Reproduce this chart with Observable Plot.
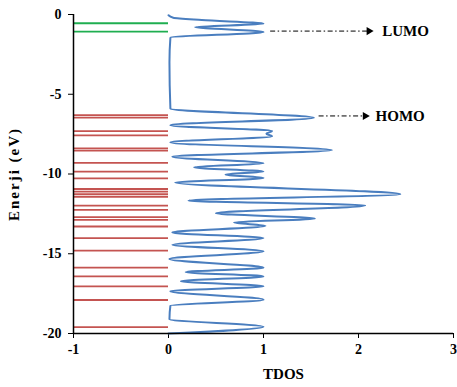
<!DOCTYPE html>
<html>
<head>
<meta charset="utf-8">
<script src="https://cdn.jsdelivr.net/npm/d3@7"></script>
<script src="https://cdn.jsdelivr.net/npm/@observablehq/plot@0.6"></script>
<style>
  body { margin: 0; background: #fff; }
  svg { overflow: visible; }
</style>
</head>
<body>
<div id="chart"></div>
<script>
// Unoccupied (LUMO side) orbital energies, eV
const virtualLevels = [-0.55, -1.07];
// Occupied orbital energies, eV
const occupiedLevels = [-6.31, -6.46, -7.31, -7.58, -8.39, -8.54, -9.30, -9.85, -10.27,
  -10.94, -11.10, -11.27, -11.44, -11.98, -12.25, -12.71, -12.88, -13.29, -14.02,
  -14.80, -15.87, -16.42, -17.04, -17.90, -19.60];

// TDOS curve: energy (eV) and density
const dosEnergy = [-0.05, -0.20, -0.35, -0.58, -0.79, -1.10, -1.45, -3.00, -5.90,
  -6.48, -6.94, -7.31, -7.47, -7.63, -8.02, -8.50, -8.92, -9.33, -9.58, -9.85,
  -10.04, -10.25, -10.54, -11.27, -11.67, -11.98, -12.46, -12.80, -13.04, -13.25,
  -13.67, -14.02, -14.44, -14.85, -15.33, -15.88, -16.15, -16.42, -16.73, -17.04,
  -17.35, -17.88, -18.25, -19.10, -19.58, -20.00];
const dosValue = [0.00, 0.05, 0.35, 1.00, 0.28, 1.00, 0.02, 0.01, 0.02,
  1.53, 0.02, 1.09, 1.03, 1.09, 0.02, 1.72, 0.04, 1.00, 0.27, 1.00,
  0.60, 1.00, 0.07, 2.44, 0.21, 2.07, 0.50, 1.54, 0.69, 1.02,
  0.04, 1.00, 0.04, 1.00, 0.01, 1.00, 0.18, 1.00, 0.13, 1.00,
  0.02, 1.00, 0.02, 0.01, 1.00, 0.00];

// Annotations
const annLabels = ["LUMO", "HOMO"];
const annEnergy = [-1.04, -6.36];
const annArrowStart = [1.07, 1.58];
const annArrowEnd = [2.11, 2.07];
const annTextX = [2.25, 2.18];

// Ticks
const xTicks = [-1, 0, 1, 2, 3];
const yTicks = [0, -5, -10, -15, -20];

const dos = dosEnergy.map((e, i) => ({energy: e, dos: dosValue[i]}));
const ann = annLabels.map((l, i) => ({label: l, y: annEnergy[i], x1: annArrowStart[i], x2: annArrowEnd[i], tx: annTextX[i]}));

const chart = Plot.plot({
  width: 457,
  height: 387,
  marginLeft: 73,
  marginRight: 4,
  marginTop: 14,
  marginBottom: 54,
  style: {fontFamily: "'Liberation Serif', 'Times New Roman', serif", fontSize: "14px", fontWeight: "bold", color: "#000", background: "#fff"},
  x: {domain: [-1, 3], ticks: xTicks, tickSize: 5, tickPadding: 6, label: null, tickFormat: d => String(d)},
  y: {domain: [-20, 0], ticks: yTicks, tickSize: 5, tickPadding: 7, label: "Enerji (eV)", labelAnchor: "center", labelOffset: 65, labelArrow: "none", tickFormat: d => String(d)},
  marks: [
    Plot.ruleY(occupiedLevels, {y: d => d, x1: -1, x2: 0, stroke: "#c45451", strokeWidth: 1.8}),
    Plot.ruleY(virtualLevels, {y: d => d, x1: -1, x2: 0, stroke: "#1fae50", strokeWidth: 1.8}),
    Plot.line(dos, {x: "dos", y: "energy", curve: "monotone-y", stroke: "#4a7ebf", strokeWidth: 2}),
    Plot.ruleX([-1], {stroke: "#000", strokeWidth: 1.5}),
    Plot.ruleY([-20], {stroke: "#000", strokeWidth: 1.5}),
    Plot.link(ann, {x1: "x1", x2: "x2", y1: "y", y2: "y", stroke: "#000", strokeWidth: 1, strokeDasharray: "5,2.5,1.5,2.5"}),
    Plot.dot(ann, {x: "x2", y: "y", symbol: "triangle", rotate: 90, r: 3, fill: "#000", stroke: "none"}),
    Plot.text(ann, {x: "tx", y: "y", text: "label", textAnchor: "start", fontSize: 15, fontWeight: "bold", fill: "#000"}),
    Plot.text(["TDOS"], {frameAnchor: "bottom", dx: 20, dy: 45, fontSize: 15, fontWeight: "bold", fill: "#000"})
  ]
});
chart.querySelectorAll("text").forEach(t => {
  if (t.textContent.includes("−")) t.textContent = t.textContent.replace(/−/g, "-");
  if (t.textContent === "Enerji (eV)") { t.style.fontSize = "15px"; t.style.letterSpacing = "2px"; }
});
document.getElementById("chart").appendChild(chart);
</script>
</body>
</html>
